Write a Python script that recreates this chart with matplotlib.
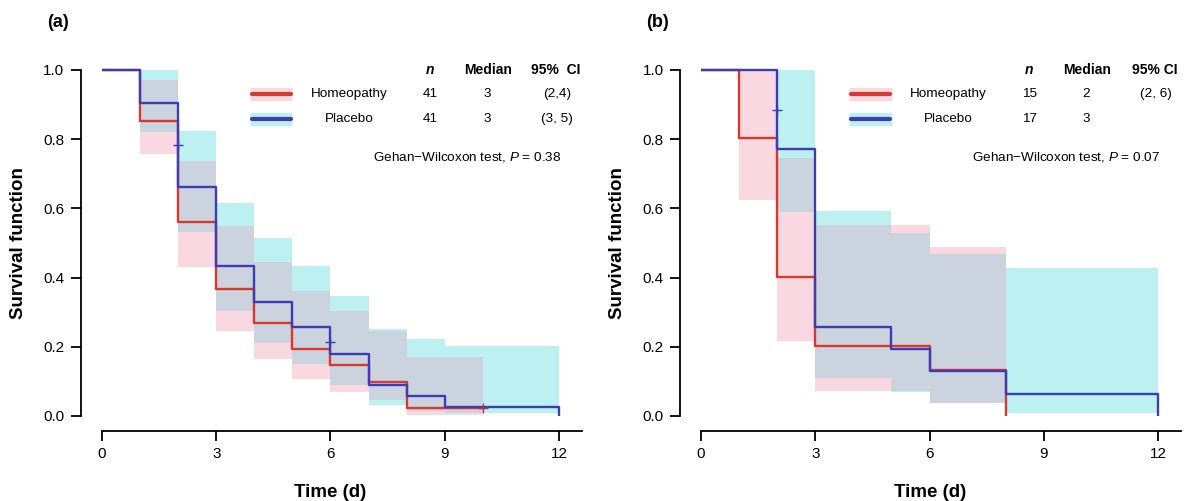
import numpy as np
import matplotlib
matplotlib.use("Agg")
import matplotlib.pyplot as plt

plt.rcParams['font.family'] = ['Liberation Sans', 'DejaVu Sans']
plt.rcParams['mathtext.fontset'] = 'custom'
plt.rcParams['mathtext.rm'] = 'Liberation Sans'
plt.rcParams['mathtext.it'] = 'Liberation Sans:italic'

nan = np.nan

# survival curves (step, post)
homeo_t_a = [0, 1, 2, 3, 4, 5, 6, 7, 8, 10]
homeo_s_a = [1.0, 0.854, 0.561, 0.366, 0.268, 0.195, 0.146, 0.098, 0.024, 0.024]
plac_t_a = [0, 1, 2, 3, 4, 5, 6, 7, 8, 9, 12, 12]
plac_s_a = [1.0, 0.905, 0.661, 0.434, 0.330, 0.256, 0.178, 0.089, 0.059, 0.027, 0.027, 0.0]

homeo_t_b = [0, 1, 2, 3, 6, 8, 8]
homeo_s_b = [1.0, 0.803, 0.403, 0.202, 0.133, 0.133, 0.0]
plac_t_b = [0, 2, 3, 5, 6, 8, 12, 12]
plac_s_b = [1.0, 0.771, 0.256, 0.193, 0.131, 0.064, 0.064, 0.0]

# 95% CI bands on unit intervals [k, k+1), k = 0..11
homeo_lo_a = [nan, .757, .432, .246, .164, .106, .070, .046, .003, .003, nan, nan]
homeo_hi_a = [nan, .971, .737, .549, .444, .362, .304, .246, .170, .170, nan, nan]
plac_lo_a = [nan, .822, .533, .302, .210, .149, .090, .032, .015, .008, .008, .008]
plac_hi_a = [nan, 1.0, .825, .615, .515, .434, .348, .251, .222, .202, .202, .202]

homeo_lo_b = [nan, .624, .217, .073, .073, .073, .037, .037, nan, nan, nan, nan]
homeo_hi_b = [nan, 1.0, .745, .551, .551, .551, .487, .487, nan, nan, nan, nan]
plac_lo_b = [nan, nan, .590, .111, .111, .070, .037, .037, .010, .010, .010, .010]
plac_hi_b = [nan, nan, 1.0, .592, .592, .528, .467, .467, .427, .427, .427, .427]

# censored observations
homeo_cens_a = ([10], [0.024])
plac_cens_a = ([2, 6], [0.783, 0.215])
homeo_cens_b = ([], [])
plac_cens_b = ([2], [0.884])

# legend table
table_a = [("Homeopathy", "41", "3", "(2,4)"), ("Placebo", "41", "3", "(3, 5)")]
table_b = [("Homeopathy", "15", "2", "(2, 6)"), ("Placebo", "17", "3", "")]
ci_head_a = "95%  CI"
ci_head_b = "95% CI"
pval_a = "0.38"
pval_b = "0.07"

RED = '#d9382c'
BLUE = '#3c3cb6'
PINK = '#f9d8e2'
CYAN = '#bdf0f0'
GREY = '#cbd3df'

fig = plt.figure(figsize=(11.86, 5.01), dpi=100)
ax_a = fig.add_axes([0.0860, 0.1697, 0.4046, 0.7044])
ax_b = fig.add_axes([0.5911, 0.1697, 0.4046, 0.7044])


def bands(ax, hlo, hhi, plo, phi):
    k = np.arange(12)
    hlo, hhi, plo, phi = map(np.array, (hlo, hhi, plo, phi))
    olo = np.maximum(hlo, plo)
    ohi = np.minimum(hhi, phi)
    ok = ohi > olo
    for lo, hi, c in [(hlo, hhi, PINK), (plo, phi, CYAN)]:
        m = ~np.isnan(lo)
        ax.bar(k[m], (hi - lo)[m], bottom=lo[m], width=1, align='edge',
               color=c, linewidth=0, antialiased=False, zorder=1)
    ax.bar(k[ok], (ohi - olo)[ok], bottom=olo[ok], width=1, align='edge',
           color=GREY, linewidth=0, antialiased=False, zorder=1.5)


def panel(ax, ht, hs, pt, ps, hc, pc, table, ci_head, pval):
    ax.step(ht, hs, where='post', color=RED, lw=1.7, zorder=3)
    ax.step(pt, ps, where='post', color=BLUE, lw=1.7, zorder=4)
    ax.plot(hc[0], hc[1], '+', color='#b03060', ms=7, mew=1.0, zorder=5)
    ax.plot(pc[0], pc[1], '+', color=BLUE, ms=7, mew=1.0, zorder=5)

    ax.set_xlim(0, 12.6)
    ax.set_ylim(0, 1.02)
    ax.set_xticks([0, 3, 6, 9, 12])
    ax.set_yticks([0.0, 0.2, 0.4, 0.6, 0.8, 1.0])
    ax.set_yticklabels(['%.1f' % v for v in ax.get_yticks()])
    for s in ['top', 'right']:
        ax.spines[s].set_visible(False)
    ax.spines['left'].set_position(('outward', 15))
    ax.spines['left'].set_bounds(0, 1)
    ax.spines['bottom'].set_position(('outward', 11))
    for s in ['left', 'bottom']:
        ax.spines[s].set_linewidth(1.3)
    ax.tick_params(length=7, width=1.3, labelsize=11, pad=4)
    ax.tick_params(axis='y', pad=5)

    tr = ax.transAxes
    ax.text(0.684, 0.980, 'n', transform=tr, ha='center', va='center',
            fontsize=10, fontweight='bold', fontstyle='italic')
    ax.text(0.804, 0.980, 'Median', transform=tr, ha='center', va='center',
            fontsize=10, fontweight='bold')
    ax.text(0.946, 0.980, ci_head, transform=tr, ha='center', va='center',
            fontsize=10, fontweight='bold')
    for row, y, lc, bc in [(table[0], 0.912, RED, PINK), (table[1], 0.842, BLUE, CYAN)]:
        ax.plot([0.309, 0.397], [y, y], transform=tr, color=bc, lw=9.5,
                solid_capstyle='butt', clip_on=False, zorder=6)
        ax.plot([0.313, 0.393], [y, y], transform=tr, color=lc, lw=3,
                solid_capstyle='round', clip_on=False, zorder=7)
        ax.text(0.516, y, row[0], transform=tr, ha='center', va='center', fontsize=9.7)
        ax.text(0.685, y, row[1], transform=tr, ha='center', va='center', fontsize=9.7)
        ax.text(0.802, y, row[2], transform=tr, ha='center', va='center', fontsize=9.7)
        ax.text(0.948, y, row[3], transform=tr, ha='center', va='center', fontsize=9.7)
    ax.text(0.760, 0.734, 'Gehan\u2212Wilcoxon test, $\\mathit{P}$ = ' + pval,
            transform=tr, ha='center', va='center', fontsize=9.7)


bands(ax_a, homeo_lo_a, homeo_hi_a, plac_lo_a, plac_hi_a)
bands(ax_b, homeo_lo_b, homeo_hi_b, plac_lo_b, plac_hi_b)
panel(ax_a, homeo_t_a, homeo_s_a, plac_t_a, plac_s_a, homeo_cens_a, plac_cens_a,
      table_a, ci_head_a, pval_a)
panel(ax_b, homeo_t_b, homeo_s_b, plac_t_b, plac_s_b, homeo_cens_b, plac_cens_b,
      table_b, ci_head_b, pval_b)

fig.text(0.049, 0.956, '(a)', fontsize=13, fontweight='bold', ha='center', va='center')
fig.text(0.554, 0.956, '(b)', fontsize=13, fontweight='bold', ha='center', va='center')
for x in [0.0152, 0.5205]:
    fig.text(x, 0.515, 'Survival function', rotation=90, fontsize=13.5,
             fontweight='bold', ha='center', va='center')
for x in [0.278, 0.784]:
    fig.text(x, 0.034, 'Time (d)', fontsize=13.5, fontweight='bold',
             ha='center', va='top')

fig.savefig('out.png', dpi=100)
